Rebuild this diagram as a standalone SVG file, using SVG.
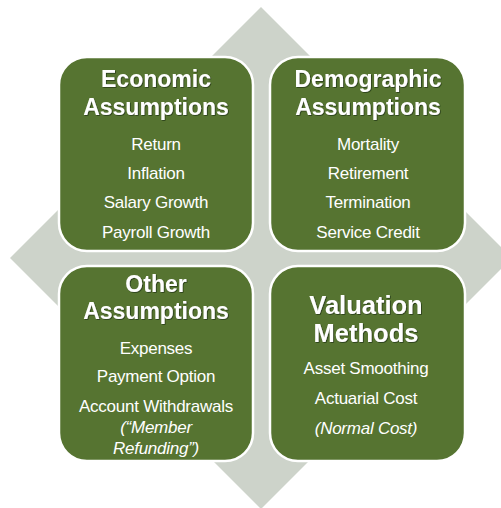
<svg xmlns="http://www.w3.org/2000/svg" width="501" height="508" viewBox="0 0 501 508">
  <defs>
    <filter id="shade" x="-10%" y="-30%" width="120%" height="160%">
      <feDropShadow dx="0.8" dy="0.8" stdDeviation="0.6" flood-color="#1e2a10" flood-opacity="0.8"/>
    </filter>
  </defs>
  <style>
    .box { fill: #567431; stroke: #ffffff; stroke-width: 2.5; }
    .title { font-family: "Liberation Sans", Arial, sans-serif; font-weight: bold; font-size: 23px; fill: #ffffff; text-anchor: middle; filter: url(#shade); }
    .big { font-size: 25.5px; }
    .item { font-family: "Liberation Sans", Arial, sans-serif; font-size: 17px; fill: #ffffff; text-anchor: middle; letter-spacing: -0.25px; }
    .note { font-style: italic; }
  </style>

  <rect width="501" height="508" fill="#ffffff"/>

  <!-- background diamond -->
  <polygon points="261,7 512,258 261,509 10,258" fill="#cdd3ca"/>

  <g id="economic">
    <rect class="box" x="59" y="57" width="194" height="194" rx="28"/>
    <text class="title" x="156" y="87">Economic</text>
    <text class="title" x="156" y="115">Assumptions</text>
    <text class="item" x="156" y="150">Return</text>
    <text class="item" x="156" y="179">Inflation</text>
    <text class="item" x="156" y="208">Salary Growth</text>
    <text class="item" x="156" y="238">Payroll Growth</text>
  </g>

  <g id="demographic">
    <rect class="box" x="270" y="57" width="195" height="194" rx="28"/>
    <text class="title" x="368" y="87">Demographic</text>
    <text class="title" x="368" y="115">Assumptions</text>
    <text class="item" x="368" y="150">Mortality</text>
    <text class="item" x="368" y="179">Retirement</text>
    <text class="item" x="368" y="208">Termination</text>
    <text class="item" x="368" y="238">Service Credit</text>
  </g>

  <g id="other">
    <rect class="box" x="59" y="266" width="194" height="195" rx="28"/>
    <text class="title" x="156" y="292">Other</text>
    <text class="title" x="156" y="319">Assumptions</text>
    <text class="item" x="156" y="354">Expenses</text>
    <text class="item" x="156" y="382">Payment Option</text>
    <text class="item" x="156" y="412">Account Withdrawals</text>
    <text class="item note" x="156" y="433">(“Member</text>
    <text class="item note" x="156" y="454">Refunding”)</text>
  </g>

  <g id="valuation">
    <rect class="box" x="270" y="266" width="195" height="195" rx="28"/>
    <text class="title big" x="366" y="314">Valuation</text>
    <text class="title big" x="366" y="342">Methods</text>
    <text class="item" x="366" y="374">Asset Smoothing</text>
    <text class="item" x="366" y="404">Actuarial Cost</text>
    <text class="item note" x="366" y="434">(Normal Cost)</text>
  </g>

  <g id="connectors"/>
</svg>
